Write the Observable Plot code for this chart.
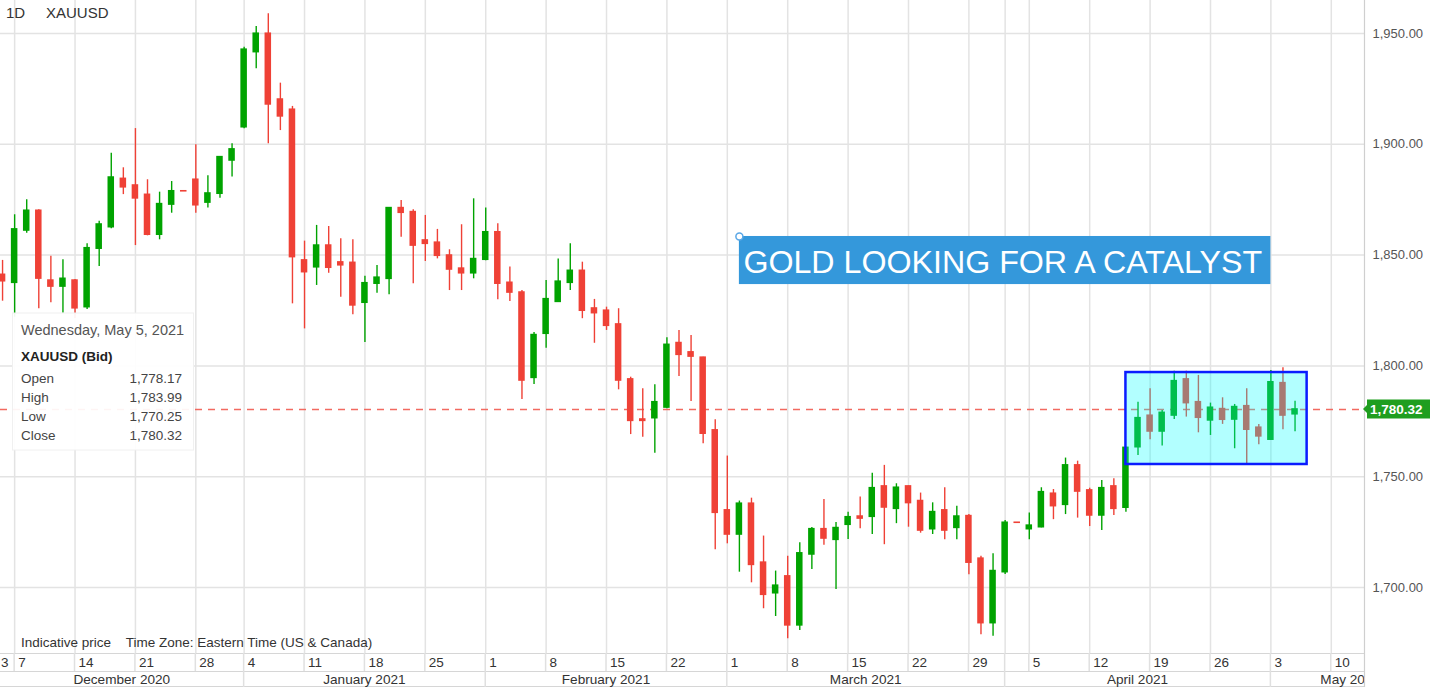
<!DOCTYPE html>
<html><head><meta charset="utf-8">
<script src="https://cdn.jsdelivr.net/npm/d3@7"></script>
<script src="https://cdn.jsdelivr.net/npm/@observablehq/plot@0.6"></script>
<style>
html,body{margin:0;padding:0;background:#fff;overflow:hidden;}
#chart{position:relative;width:1430px;height:687px;overflow:hidden;}
</style></head><body><div id="chart"></div>
<script>
// ---------- DATA ----------
const dates = [
"2020-12-04","2020-12-07","2020-12-08","2020-12-09","2020-12-10","2020-12-11","2020-12-14","2020-12-15","2020-12-16","2020-12-17","2020-12-18","2020-12-21","2020-12-22","2020-12-23","2020-12-24","2020-12-25","2020-12-28","2020-12-29","2020-12-30","2020-12-31",
"2021-01-04","2021-01-05","2021-01-06","2021-01-07","2021-01-08","2021-01-11","2021-01-12","2021-01-13","2021-01-14","2021-01-15","2021-01-18","2021-01-19","2021-01-20","2021-01-21","2021-01-22","2021-01-25","2021-01-26","2021-01-27","2021-01-28","2021-01-29",
"2021-02-01","2021-02-02","2021-02-03","2021-02-04","2021-02-05","2021-02-08","2021-02-09","2021-02-10","2021-02-11","2021-02-12","2021-02-15","2021-02-16","2021-02-17","2021-02-18","2021-02-19","2021-02-22","2021-02-23","2021-02-24","2021-02-25","2021-02-26",
"2021-03-01","2021-03-02","2021-03-03","2021-03-04","2021-03-05","2021-03-08","2021-03-09","2021-03-10","2021-03-11","2021-03-12","2021-03-15","2021-03-16","2021-03-17","2021-03-18","2021-03-19","2021-03-22","2021-03-23","2021-03-24","2021-03-25","2021-03-26","2021-03-29","2021-03-30","2021-03-31",
"2021-04-01","2021-04-02","2021-04-05","2021-04-06","2021-04-07","2021-04-08","2021-04-09","2021-04-12","2021-04-13","2021-04-14","2021-04-15","2021-04-16","2021-04-19","2021-04-20","2021-04-21","2021-04-22","2021-04-23","2021-04-26","2021-04-27","2021-04-28","2021-04-29","2021-04-30",
"2021-05-03","2021-05-04","2021-05-05"];

const open = [
1841.1,1837.5,1861.1,1870.0,1838.5,1835.8,1838.5,1826.5,1852.9,1862.6,1884.4,1881.4,1877.2,1859.2,1872.8,1878.8,1884.0,1873.7,1877.7,1892.7,
1907.7,1941.6,1949.9,1920.2,1915.6,1847.6,1844.5,1854.3,1846.7,1846.5,1828.5,1837.1,1839.3,1871.2,1869.4,1856.6,1855.6,1849.8,1843.9,1841.8,
1847.9,1860.3,1837.5,1833.1,1794.6,1814.5,1828.9,1837.5,1842.9,1825.9,1824.9,1818.7,1793.9,1775.8,1776.4,1781.2,1810.3,1806.1,1803.7,1770.9,
1734.8,1723.9,1737.8,1711.2,1697.4,1705.0,1682.9,1714.9,1726.3,1721.5,1728.3,1732.0,1731.9,1745.6,1735.5,1745.6,1739.0,1726.3,1734.8,1726.9,1732.2,1713.0,1683.9,
1706.9,1729.2,1726.3,1727.2,1742.3,1737.3,1755.1,1743.8,1732.5,1745.6,1736.0,1763.3,1777.5,1770.4,1777.6,1793.9,1783.6,1775.4,1780.5,1775.8,1781.8,1772.1,
1766.7,1792.2,1778.17];
const high = [
1847.6,1868.2,1875.0,1870.5,1849.5,1847.9,1839.0,1855.1,1865.3,1896.0,1889.4,1907.1,1884.0,1878.4,1883.2,1878.8,1899.8,1885.8,1894.5,1900.2,
1943.8,1953.2,1958.9,1927.6,1917.1,1856.3,1863.4,1862.9,1857.4,1856.9,1840.5,1845.3,1871.5,1874.6,1870.5,1867.9,1861.6,1852.4,1863.7,1875.4,
1871.2,1864.1,1844.6,1834.0,1815.1,1838.5,1848.2,1855.1,1846.8,1830.0,1826.5,1825.8,1794.9,1789.7,1791.5,1812.7,1816.0,1813.7,1803.9,1775.7,
1759.3,1739.0,1740.3,1723.2,1707.4,1714.1,1720.2,1727.1,1739.7,1729.3,1734.0,1740.8,1751.6,1755.1,1746.8,1745.8,1742.6,1738.2,1745.0,1736.6,1732.9,1714.1,1715.2,
1730.2,1729.2,1733.6,1745.0,1744.2,1758.4,1757.0,1744.8,1748.3,1749.1,1763.3,1783.6,1789.7,1779.9,1797.6,1797.6,1795.7,1783.2,1785.6,1782.6,1789.7,1773.6,
1797.9,1799.2,1783.99];
const low = [
1829.2,1822.0,1859.9,1825.8,1828.5,1823.8,1821.4,1825.5,1844.9,1861.9,1877.3,1854.3,1858.7,1856.9,1868.9,1878.8,1868.9,1871.3,1875.7,1885.2,
1907.0,1934.1,1900.2,1906.2,1828.0,1816.7,1836.3,1841.8,1831.0,1823.1,1810.6,1832.8,1832.1,1858.1,1837.1,1847.1,1848.3,1834.0,1834.0,1839.3,
1847.5,1829.8,1829.1,1784.8,1791.6,1808.0,1828.6,1834.0,1821.3,1810.2,1816.0,1789.2,1769.0,1767.8,1760.6,1780.6,1795.2,1783.9,1764.9,1717.0,
1719.7,1706.9,1702.1,1690.4,1686.9,1676.9,1680.6,1708.1,1719.1,1699.1,1721.7,1726.5,1723.9,1719.3,1728.8,1727.2,1724.5,1723.9,1721.5,1721.5,1705.7,1678.7,1678.0,
1705.9,1729.2,1721.5,1726.9,1730.6,1732.9,1731.3,1727.5,1725.7,1732.5,1734.0,1759.6,1766.7,1763.8,1775.8,1776.9,1769.8,1768.6,1773.6,1762.6,1755.8,1764.4,
1766.3,1771.2,1770.25];
const close = [
1838.2,1861.6,1870.0,1839.4,1835.8,1839.3,1826.0,1853.1,1863.8,1885.0,1880.6,1875.6,1859.2,1873.0,1878.8,1878.8,1872.5,1877.8,1894.2,1897.7,
1942.7,1949.9,1918.0,1912.6,1849.1,1842.3,1854.3,1844.3,1845.4,1827.3,1837.3,1839.8,1871.2,1869.1,1854.3,1855.1,1849.7,1843.5,1841.8,1848.2,
1860.3,1837.1,1833.1,1793.4,1813.9,1830.1,1838.0,1842.9,1824.9,1823.8,1818.1,1793.4,1775.2,1775.2,1783.6,1809.5,1805.0,1804.2,1769.4,1733.7,
1723.9,1737.8,1710.2,1696.7,1700.8,1682.9,1715.4,1726.3,1722.1,1726.8,1731.7,1731.1,1744.8,1736.1,1745.0,1738.1,1725.7,1734.0,1725.7,1732.0,1711.2,1683.9,1707.4,
1729.2,1729.2,1727.9,1743.0,1736.7,1755.1,1743.3,1732.5,1744.8,1735.5,1763.0,1776.4,1770.4,1778.8,1793.1,1783.2,1776.6,1781.1,1775.7,1781.4,1771.2,1768.2,
1792.6,1777.6,1780.32];

const yTicks = [1700, 1750, 1800, 1850, 1900, 1950];
const weekDates = ["2020-12-07","2020-12-14","2020-12-21","2020-12-28","2021-01-04","2021-01-11","2021-01-18","2021-01-25","2021-02-01","2021-02-08","2021-02-15","2021-02-22","2021-03-01","2021-03-08","2021-03-15","2021-03-22","2021-03-29","2021-04-05","2021-04-12","2021-04-19","2021-04-26","2021-05-03","2021-05-10"];
const weekLabels = ["7","14","21","28","4","11","18","25","1","8","15","22","1","8","15","22","29","5","12","19","26","3","10"];
const monthStartDates = ["2021-01-04","2021-02-01","2021-03-01","2021-04-01","2021-05-03"];
const monthLabels = ["December 2020","January 2021","February 2021","March 2021","April 2021","May 2021"];

const symbol = "XAUUSD";
const period = "1D";
const annotationText = "GOLD LOOKING FOR A CATALYST";
const annotation = {start:"2021-03-02", end:"2021-05-03", top:1858.4, bottom:1836.7};
const rangeBox = {start:"2021-04-15", end:"2021-05-06", low:1755.5, high:1797.0};
const tooltipDate = "Wednesday, May 5, 2021";

// ---------- helpers ----------
function idxOf(ds){
  const i = dates.indexOf(ds);
  if (i >= 0) return i;
  const d = new Date(dates[dates.length-1] + "T00:00:00Z");
  const target = new Date(ds + "T00:00:00Z");
  let k = dates.length - 1;
  while (d < target){ d.setUTCDate(d.getUTCDate()+1); const w = d.getUTCDay(); if (w !== 0 && w !== 6) k++; }
  return k;
}
const rows = dates.map((d,i)=>({i, date:d, open:open[i], high:high[i], low:low[i], close:close[i]}));
const UP = "#00a300", DOWN = "#ef4136";
const col = d => d.close > d.open ? UP : DOWN;
const gridIdx = weekDates.map(idxOf).concat([idxOf("2021-04-01")]);
const last = rows[rows.length-1];
const fmt = d3.format(",.2f");
const FONT = '"Liberation Sans", Arial, Helvetica, sans-serif';

const W = 1430, H = 687, MR = 66, MB = 34;

const ann = {x1: idxOf(annotation.start), x2: idxOf(annotation.end), y1: annotation.bottom, y2: annotation.top, text: annotationText};
const box = {x1: idxOf(rangeBox.start), x2: idxOf(rangeBox.end), y1: rangeBox.low, y2: rangeBox.high};

const chart = Plot.plot({
  width: W, height: H,
  marginLeft: 0, marginRight: MR, marginTop: 0, marginBottom: MB,
  x: {type: "linear", domain: [-0.17, 112.75], axis: null},
  y: {domain: [1670.2, 1964.9], axis: null},
  style: {fontFamily: FONT, fontSize: "13px", background: "#fff", overflow: "visible"},
  marks: [
    Plot.ruleY(yTicks, {stroke: "#e3e3e3", strokeWidth: 1.5}),
    Plot.ruleX(gridIdx, {stroke: "#e3e3e3", strokeWidth: 1.5}),
    Plot.ruleY([last.close], {stroke: "#f26a60", strokeWidth: 1.4, strokeDasharray: "7,6"}),
    Plot.ruleX(rows, {x: "i", y1: "low", y2: "high", stroke: col, strokeWidth: 1.4}),
    Plot.rect(rows, {x1: d => d.i - 0.27, x2: d => d.i + 0.27,
      y1: d => Math.min(d.open, d.close), y2: d => Math.max(d.open, d.close),
      fill: col, insetTop: -0.8, insetBottom: -0.8}),
    Plot.rect([box], {x1: "x1", x2: "x2", y1: "y1", y2: "y2", fill: "#00ffff", fillOpacity: 0.3, stroke: "#0a1cff", strokeWidth: 2.5}),
    Plot.rect([ann], {x1: "x1", x2: "x2", y1: "y1", y2: "y2", fill: "#3498db"}),
    Plot.text([ann], {x: "x1", y: d => (d.y1 + d.y2) / 2, text: "text", textAnchor: "start", dx: 4, dy: 2, fill: "#fff", fontSize: 32.2}),
    Plot.dot([ann], {x: "x1", y: "y2", r: 3.5, fill: "#fff", stroke: "#5aa7e6", strokeWidth: 1.5}),
    Plot.axisY({anchor: "right", ticks: yTicks, tickFormat: fmt, tickSize: 0, tickPadding: 8, fill: "#555"})
  ]
});

document.getElementById("chart").appendChild(chart);

const X = chart.scale("x"), Y = chart.scale("y");
const svg = d3.select(chart);
const plotRight = W - MR, plotBottom = H - MB;

function txt(parent, x, y, s, size, fill, anchor, weight){
  return parent.append("text").attr("x", x).attr("y", y).attr("dy", "0.36em")
    .attr("text-anchor", anchor || "start").attr("fill", fill).attr("font-size", size)
    .attr("font-weight", weight || "normal").style("font-family", FONT).attr("xml:space", "preserve").text(s);
}

// clip for bottom axis rows
svg.append("defs").append("clipPath").attr("id", "axclip")
  .append("rect").attr("x", 0).attr("y", 0).attr("width", plotRight).attr("height", H);

const ax = svg.append("g").attr("clip-path", "url(#axclip)");
ax.append("rect").attr("x", 0).attr("y", plotBottom).attr("width", plotRight).attr("height", MB).attr("fill", "#fff");
const rowMid = plotBottom + 18;
[plotBottom + 0.5, rowMid + 0.5, H - 0.5].forEach(y =>
  ax.append("line").attr("x1", 0).attr("x2", plotRight).attr("y1", y).attr("y2", y).attr("stroke", "#d6d6d6").attr("stroke-width", 1.2));
gridIdx.forEach(i => {
  const x = X.apply(i);
  ax.append("line").attr("x1", x).attr("x2", x).attr("y1", plotBottom).attr("y2", rowMid).attr("stroke", "#e0e0e0").attr("stroke-width", 1.5);
});
weekDates.forEach((d, k) => txt(ax, X.apply(idxOf(d)) + 4, plotBottom + 9, weekLabels[k], 13.5, "#333"));
txt(ax, 1, plotBottom + 9, "3", 13.5, "#333");
const bounds = [0].concat(monthStartDates.map(d => X.apply(idxOf(d)))).concat([W]);
monthStartDates.forEach(d => {
  const x = X.apply(idxOf(d));
  ax.append("line").attr("x1", x).attr("x2", x).attr("y1", rowMid).attr("y2", H).attr("stroke", "#e0e0e0").attr("stroke-width", 1.5);
});
monthLabels.forEach((m, k) => txt(ax, (bounds[k] + bounds[k+1]) / 2, rowMid + 8, m, 13.6, "#333", "middle"));

// right axis border
svg.append("line").attr("x1", plotRight + 0.5).attr("x2", plotRight + 0.5).attr("y1", 0).attr("y2", H).attr("stroke", "#cfcfcf").attr("stroke-width", 1.2);

// footnote
txt(svg, 21, plotBottom - 11, "Indicative price    Time Zone: Eastern Time (US & Canada)", 13.5, "#333");

// header
txt(svg, 6, 13, period, 15, "#333");
txt(svg, 46, 13, symbol, 15, "#333");

// last price tag
const yl = Y.apply(last.close);
svg.append("path").attr("d", `M${plotRight - 1},${yl} L${plotRight + 4},${yl - 5} L${plotRight + 4},${yl + 5} Z`).attr("fill", "#1f9e1f");
svg.append("rect").attr("x", plotRight + 3).attr("y", yl - 9.5).attr("width", W - plotRight - 3).attr("height", 19).attr("fill", "#1f9e1f");
txt(svg, plotRight + 6, yl, fmt(last.close), 13.5, "#fff", "start", "bold");

// tooltip
const tt = svg.append("g");
tt.append("rect").attr("x", 12.5).attr("y", 313).attr("width", 181).attr("height", 137).attr("fill", "#fff").attr("fill-opacity", 0.93).attr("stroke", "#f0f0f0");
txt(tt, 21, 330, tooltipDate, 14.5, "#555");
txt(tt, 21, 356.5, symbol + " (Bid)", 13.5, "#222", "start", "bold");
[["Open", last.open], ["High", last.high], ["Low", last.low], ["Close", last.close]].forEach(([k, v], j) => {
  const y = 378.5 + j * 19;
  txt(tt, 21, y, k, 13.5, "#444");
  txt(tt, 182, y, fmt(v), 13.5, "#444", "end");
});
</script></body></html>
